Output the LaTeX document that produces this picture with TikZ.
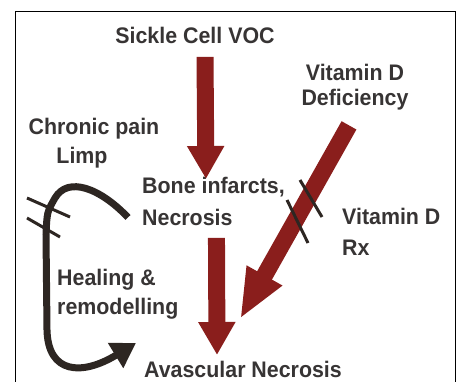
\documentclass[tikz,border=0pt]{standalone}
\usepackage{fontspec}
\setmainfont{Liberation Sans}[FakeStretch=0.95]
\usepackage{tikz}
\usetikzlibrary{positioning, arrows.meta}
\newcommand{\lblsize}{\fontsize{22.5pt}{29pt}\selectfont}
\definecolor{arrowred}{RGB}{138, 30, 28}
\definecolor{inkdark}{RGB}{45, 38, 34}
\definecolor{textgray}{RGB}{55, 52, 52}
\tikzset{
  % text labels
  lbl/.style={inner sep=0pt, font=\lblsize\bfseries, text=textgray},
  % red block arrows
  redarr/.style={-{Triangle[width=35pt,length=33pt]}, line width=17pt, draw=arrowred},
  % dark curved arrow
  curvearr/.style={-{Triangle[width=28pt,length=24pt]}, line width=7pt, draw=inkdark},
  % blocking strokes
  hatch/.style={line width=3pt, draw=inkdark},
}
\begin{document}
\begin{tikzpicture}[x=1pt, y=-1pt]
  \useasboundingbox (0,0) rectangle (457,382);
  \draw[line width=1pt] (15,382) -- (15,11.5) -- (455,11.5) -- (455,382);

  \node[lbl, anchor=north] (voc) at (195,27) {Sickle Cell VOC};
  \node[lbl, anchor=north, align=center] (vitd) at (355,64) {Vitamin D\\[-4pt]Deficiency};
  \node[lbl, anchor=north, align=center] (chronic) at (94,118) {Chronic pain\\Limp\hspace*{24pt}};
  \node[lbl, anchor=north west, align=left] (bone) at (142,177) {Bone infarcts,\\[3pt]Necrosis};
  \node[lbl, anchor=north west, align=left] (rx) at (342,208) {Vitamin D\\[2pt]Rx};
  \node[lbl, anchor=north west, align=left] (heal) at (57,269) {Healing \&\\remodelling};
  \node[lbl, anchor=north] (avn) at (243,361) {Avascular Necrosis};

  \draw[redarr] ([xshift=10pt,yshift=-13pt]voc.south) -- ([xshift=-7.5pt,yshift=-2pt]bone.north);
  \draw[redarr] ([xshift=3pt,yshift=-12pt]bone.south) -- ([xshift=-26pt,yshift=6pt]avn.north);
  \draw[redarr, -{Triangle[width=37pt,length=50pt]}] ([xshift=-6pt,yshift=-15pt]vitd.south) -- ([xshift=-3pt,yshift=42pt]avn.north);

  \draw[curvearr] ([xshift=-14pt,yshift=-16pt]bone.west)
    .. controls (100,188) and (68,176) .. (55,198)
    .. controls (47,212) .. (46,235) -- (47,330)
    .. controls (48,374) and (82,376) .. ([xshift=-8pt,yshift=18pt]avn.north west);

  \draw[hatch] (27,198) -- (70,217);
  \draw[hatch] (27,218) -- (60,237);
  \draw[hatch] (300,180) -- (322,217);
  \draw[hatch] (287,200) -- (308,243);
\end{tikzpicture}
\end{document}
